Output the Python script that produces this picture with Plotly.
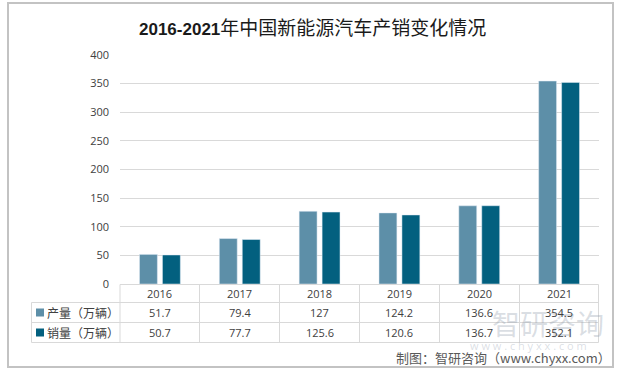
import plotly.graph_objects as go

years = ["2016", "2017", "2018", "2019", "2020", "2021"]
production = [51.7, 79.4, 127, 124.2, 136.6, 354.5]
sales = [50.7, 77.7, 125.6, 120.6, 136.7, 352.1]
production_labels = ["51.7", "79.4", "127", "124.2", "136.6", "354.5"]
sales_labels = ["50.7", "77.7", "125.6", "120.6", "136.7", "352.1"]
series_names = ["产量（万辆）", "销量（万辆）"]
colors = ["#5d8fa8", "#03607f"]
y_ticks = [0, 50, 100, 150, 200, 250, 300, 350, 400]

W, H = 627, 373
L, R, T, B = 120, 599, 55, 284  # plot area in px


def px(x):
    return (x - L) / (R - L)


def py(y):
    return (B - y) / (B - T)


fig = go.Figure()
fig.add_trace(go.Bar(x=years, y=production, name=series_names[0], marker_color=colors[0]))
fig.add_trace(go.Bar(x=years, y=sales, name=series_names[1], marker_color=colors[1]))

font_main = "Open Sans, Noto Sans CJK SC, sans-serif"
fig.update_layout(
    width=W, height=H,
    margin=dict(l=L, r=W - R, t=T, b=H - B, pad=0),
    paper_bgcolor="white", plot_bgcolor="white",
    showlegend=False,
    barmode="group", bargap=0.425, bargroupgap=0.22,
    font=dict(family=font_main, size=11, color="#404040"),
)
fig.update_xaxes(type="category", showticklabels=False, showgrid=False, showline=False,
                 zeroline=False, range=[-0.5, 5.5])
fig.update_yaxes(range=[0, 400], tickvals=y_ticks, showgrid=True, gridcolor="#d9d9d9",
                 gridwidth=1, zeroline=False, showline=False,
                 tickfont=dict(size=11, color="#404040"), ticklabelstandoff=10)

shapes = []
line_col = "#d9d9d9"
# outer border
shapes.append(dict(type="rect", xref="paper", yref="paper", x0=px(8), x1=px(613),
                   y0=py(367), y1=py(3), line=dict(color="#c3c3c3", width=2), layer="below"))
# table lines
col_edges = [120, 199.5, 279.5, 359.5, 439.5, 519.5, 598.5]
shapes.append(dict(type="line", xref="paper", yref="paper", x0=px(120), x1=px(598.5),
                   y0=py(284.5), y1=py(284.5), line=dict(color=line_col, width=1)))
for yy in [302.5, 322.5, 342.5]:
    shapes.append(dict(type="line", xref="paper", yref="paper", x0=px(31.5), x1=px(598.5),
                       y0=py(yy), y1=py(yy), line=dict(color=line_col, width=1)))
shapes.append(dict(type="line", xref="paper", yref="paper", x0=px(31.5), x1=px(31.5),
                   y0=py(302.5), y1=py(342.5), line=dict(color=line_col, width=1)))
for xx in col_edges:
    shapes.append(dict(type="line", xref="paper", yref="paper", x0=px(xx), x1=px(xx),
                       y0=py(284.5), y1=py(342.5), line=dict(color=line_col, width=1)))
# legend keys
for i, yc in enumerate([312.5, 332.5]):
    shapes.append(dict(type="rect", xref="paper", yref="paper", x0=px(36), x1=px(44),
                       y0=py(yc + 4), y1=py(yc - 4), fillcolor=colors[i], line=dict(width=0)))

ann = []
# watermark (drawn first, behind other texts)
ann.append(dict(xref="paper", yref="paper", x=px(548), y=py(323), text="智研咨询",
                showarrow=False, xanchor="center", yanchor="middle",
                font=dict(family="Noto Sans CJK SC", size=28, color="rgba(150,160,175,0.35)")))
ann.append(dict(xref="paper", yref="paper", x=px(528), y=py(345), text="w w w . c h y x x . c o m",
                showarrow=False, xanchor="center", yanchor="middle",
                font=dict(family="Open Sans", size=11, color="rgba(150,160,175,0.35)")))
# title
ann.append(dict(xref="paper", yref="paper", x=px(312), y=py(26), xanchor="center", yanchor="middle",
                showarrow=False,
                text="<b><span style='font-family:Liberation Sans, sans-serif; font-size:17px'>2016-2021</span></b>"
                     "年中国新能源汽车产销变化情况",
                font=dict(family="Noto Sans CJK SC", size=19, color="#1a1a1a")))
# table contents
for i, yr in enumerate(years):
    ann.append(dict(xref="x", yref="paper", x=i, y=py(293.5), text=yr, showarrow=False,
                    xanchor="center", yanchor="middle", font=dict(size=11, color="#404040")))
    ann.append(dict(xref="x", yref="paper", x=i, y=py(312.5), text=production_labels[i],
                    showarrow=False, xanchor="center", yanchor="middle",
                    font=dict(size=11, color="#404040")))
    ann.append(dict(xref="x", yref="paper", x=i, y=py(332.5), text=sales_labels[i],
                    showarrow=False, xanchor="center", yanchor="middle",
                    font=dict(size=11, color="#404040")))
for i, yc in enumerate([312.5, 332.5]):
    ann.append(dict(xref="paper", yref="paper", x=px(45), y=py(yc), text=series_names[i],
                    showarrow=False, xanchor="left", yanchor="middle",
                    font=dict(family="Noto Sans CJK SC", size=12, color="#404040")))
# source
ann.append(dict(xref="paper", yref="paper", x=px(613), y=py(357), text="制图：智研咨询（www.chyxx.com）",
                showarrow=False, xanchor="right", yanchor="middle",
                font=dict(family="Noto Sans CJK SC", size=13, color="#595959")))

fig.update_layout(shapes=shapes, annotations=ann)
fig.write_html("out.html", config={"displayModeBar": False},
               post_script="document.body.style.margin='0';document.body.style.overflow='hidden';")
